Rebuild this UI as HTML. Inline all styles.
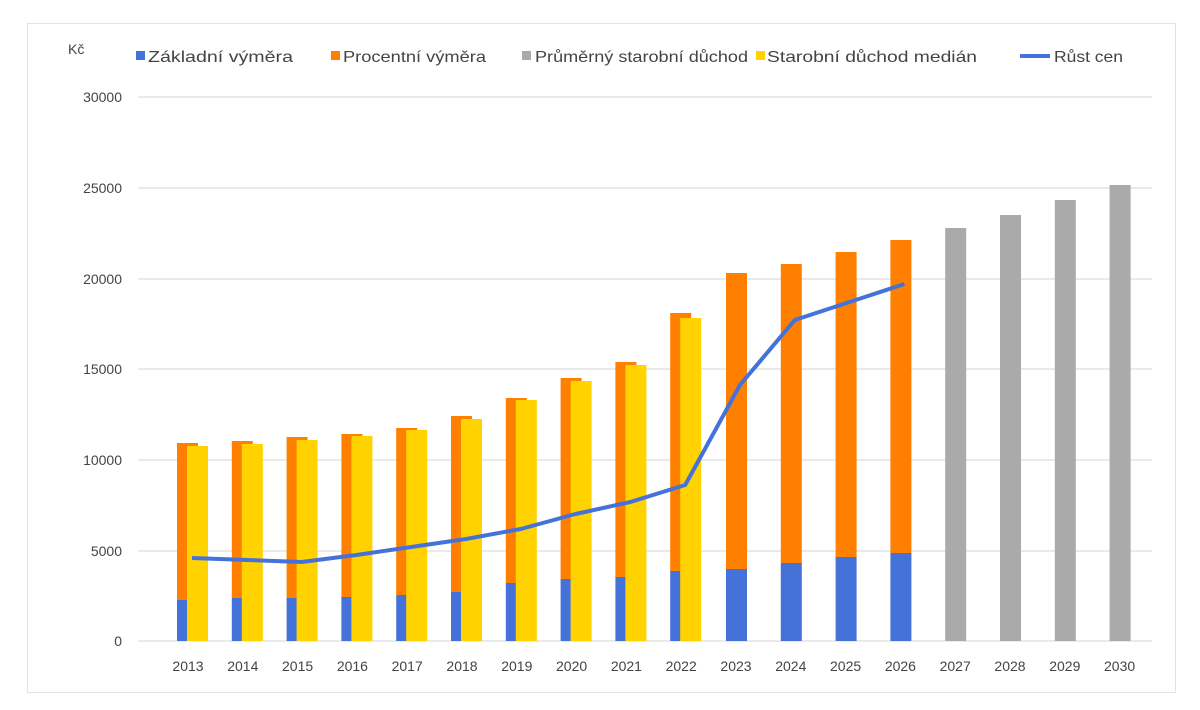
<!DOCTYPE html>
<html><head><meta charset="utf-8"><style>body{margin:0;background:#fff}svg{display:block}text{font-family:"Liberation Sans","DejaVu Sans",sans-serif;fill:#444}</style></head><body>
<svg width="1200" height="710" xmlns="http://www.w3.org/2000/svg">
<rect x="27.5" y="23.5" width="1148" height="669" fill="#fff" stroke="#e3e3e3"/>
<text x="68" y="54" font-size="14">Kč</text>
<g font-size="16">
<rect x="136" y="51" width="9" height="9" fill="#4472d8"/><text x="148" y="62" textLength="145" lengthAdjust="spacingAndGlyphs">Základní výměra</text>
<rect x="331" y="51" width="9" height="9" fill="#ff8000"/><text x="343" y="62" textLength="143" lengthAdjust="spacingAndGlyphs">Procentní výměra</text>
<rect x="522" y="51" width="9" height="9" fill="#aaa"/><text x="535" y="62" textLength="213" lengthAdjust="spacingAndGlyphs">Průměrný starobní důchod</text>
<rect x="756" y="51" width="9" height="9" fill="#ffd200"/><text x="767" y="62" textLength="210" lengthAdjust="spacingAndGlyphs">Starobní důchod medián</text>
<line x1="1020" y1="56" x2="1050" y2="56" stroke="#4472d8" stroke-width="4"/><text x="1054" y="62" textLength="69" lengthAdjust="spacingAndGlyphs">Růst cen</text>
</g>
<g stroke="#e3e3e3" stroke-width="1.5">
<line x1="138" y1="97" x2="1152" y2="97"/><line x1="138" y1="188" x2="1152" y2="188"/><line x1="138" y1="279" x2="1152" y2="279"/><line x1="138" y1="369" x2="1152" y2="369"/><line x1="138" y1="460" x2="1152" y2="460"/><line x1="138" y1="551" x2="1152" y2="551"/><line x1="138" y1="641" x2="1152" y2="641"/>
</g>
<g font-size="14" text-anchor="end">
<text x="122" y="102">30000</text><text x="122" y="193">25000</text><text x="122" y="284">20000</text><text x="122" y="374">15000</text><text x="122" y="465">10000</text><text x="122" y="556">5000</text><text x="122" y="646">0</text>
</g>
<g id="bars"></g>
<g id="labels" font-size="14" text-anchor="middle"></g>
<polyline id="line" fill="none" stroke="#4472d8" stroke-width="4" stroke-linejoin="round"/>
<script>
var tot=[443,441,437,434,428,416,398,378,362,313,273,264,252,240,228,215,200,185];
var yel=[446,444,440,436,430,419,400,381,365,318];
var blu=[600,598,598,597,595,592,583,579,577,571,569,563,557,553];
var ln=[558,560,562,555,547,539,529,514,502,485,385,320,302,284];
var ns="http://www.w3.org/2000/svg",b=document.getElementById("bars"),L=document.getElementById("labels");
function r(x,y,w,h,c){var e=document.createElementNS(ns,"rect");e.setAttribute("x",x);e.setAttribute("y",y);e.setAttribute("width",w);e.setAttribute("height",h);e.setAttribute("fill",c);b.appendChild(e);}
var pts=[];
for(var i=0;i<18;i++){var c=188+i*54.8;
 if(i<10){r(c-11,tot[i],21,blu[i]-tot[i],"#ff8000");r(c-11,blu[i],21,641-blu[i],"#4472d8");r(c-1,yel[i],21,641-yel[i],"#ffd200");}
 else if(i<14){r(c-10,tot[i],21,blu[i]-tot[i],"#ff8000");r(c-10,blu[i],21,641-blu[i],"#4472d8");}
 else r(c-10,tot[i],21,641-tot[i],"#aaa");
 if(i<14)pts.push((c+4)+","+ln[i]);
 var t=document.createElementNS(ns,"text");t.setAttribute("x",c);t.setAttribute("y",671);t.textContent=2013+i;L.appendChild(t);}
document.getElementById("line").setAttribute("points",pts.join(" "));
</script>
</svg>
</body></html>
